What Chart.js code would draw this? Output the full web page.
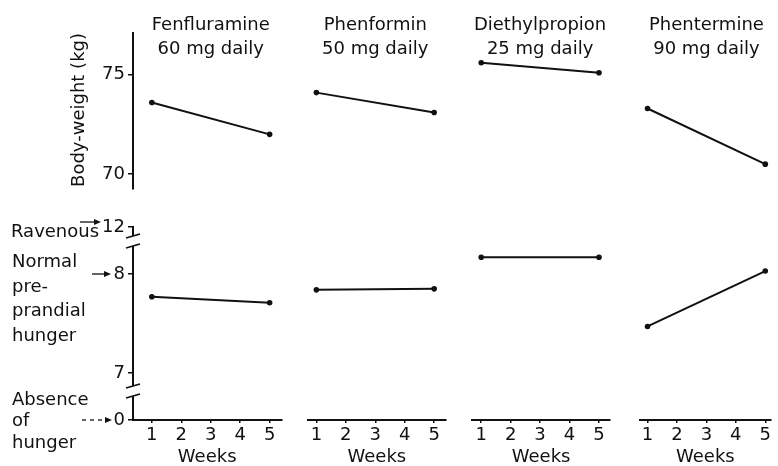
<!DOCTYPE html>
<html>
<head>
<meta charset="utf-8">
<script src="https://cdn.jsdelivr.net/npm/chart.js@4.4.1/dist/chart.umd.min.js"></script>
<style>
  body { margin: 0; background: #fff; }
  #wrap { width: 778px; height: 466px; }
</style>
</head>
<body>
<div id="wrap"><canvas id="myChart"></canvas></div>
<script>
const drugs = ['Fenfluramine', 'Phenformin', 'Diethylpropion', 'Phentermine'];
const doses = ['60 mg daily', '50 mg daily', '25 mg daily', '90 mg daily'];
const weeks = [1, 5];
const weekTicks = [1, 2, 3, 4, 5];
const weightStart = [73.6, 74.1, 75.6, 73.3];
const weightEnd = [72.0, 73.1, 75.1, 70.5];
const hungerStart = [7.77, 7.84, 8.17, 7.47];
const hungerEnd = [7.71, 7.85, 8.17, 8.03];
const weightTicks = [70, 75];
const hungerTicks = ['0', '7', '8', '12'];

const ink = '#111';
const font = { family: 'DejaVu Sans', size: 18 };
// hunger axis is broken: 0 sits below 7 and 12 above 8
const brk = 0.475;

// column widths (axis, gap, axis, gap...) and week ranges of each column
let widths = [150, 27, 139, 27, 139, 30, 133];
let ranges = [[0.36, 5.4], [0.72, 5.39], [0.70, 5.37], [0.73, 5.2]];

let scales = {};
drugs.forEach((d, i) => {
    scales['x' + i] = {
        type: 'linear', position: 'bottom', stack: 'weeks',
        stackWeight: widths[i * 2], weight: i * 2,
        min: ranges[i][0], max: ranges[i][1],
        afterBuildTicks: s => { s.ticks = weekTicks.map(v => ({ value: v })); },
        afterFit: s => { s.height = 46; },
        ticks: { font, color: ink, padding: 2, autoSkip: false, maxRotation: 0, minRotation: 0 },
        grid: { drawOnChartArea: false, tickLength: 3, color: ink, lineWidth: 1.5 },
        border: { color: ink, width: 2 },
        title: { display: true, text: 'Weeks', font, color: ink, padding: { top: 0, bottom: -2 } }
    };
    if (i < 3) {
        scales['gap' + i] = {
            type: 'linear', position: 'bottom', stack: 'weeks',
            stackWeight: widths[i * 2 + 1], weight: i * 2 + 1,
            ticks: { display: false }, grid: { display: false }, border: { display: false }
        };
    }
});

scales.yW = {
    type: 'linear', position: 'left', stack: 'side', stackWeight: 156, weight: 2,
    min: 69.25, max: 77.1,
    afterBuildTicks: s => { s.ticks = weightTicks.map(v => ({ value: v })); },
    afterFit: s => { s.width = 133; },
    ticks: { font, color: ink, padding: 3 },
    grid: { drawOnChartArea: false, tickLength: 5, color: ink, lineWidth: 1.5 },
    border: { color: ink, width: 2 },
    title: { display: true, text: 'Body-weight (kg)', font, color: ink, align: 'end', padding: { top: 69 } }
};
scales.yGap = {
    type: 'linear', position: 'left', stack: 'side', stackWeight: 38, weight: 1,
    afterFit: s => { s.width = 133; },
    ticks: { display: false }, grid: { display: false }, border: { display: false }
};
scales.yH = {
    type: 'linear', position: 'left', stack: 'side', stackWeight: 193, weight: 0,
    min: 7 - brk, max: 8 + brk,
    afterBuildTicks: s => { s.ticks = [7 - brk, 7, 8, 8 + brk].map(v => ({ value: v })); },
    afterFit: s => { s.width = 133; },
    ticks: { font, color: ink, padding: 3, callback: (v, i) => hungerTicks[i] },
    grid: { drawOnChartArea: false, tickLength: 5, color: ink, lineWidth: 1.5 },
    border: { color: ink, width: 2 }
};

let datasets = [];
drugs.forEach((d, i) => {
    datasets.push({
        label: d + ' body-weight',
        data: weeks.map((w, k) => ({ x: w, y: k ? weightEnd[i] : weightStart[i] })),
        xAxisID: 'x' + i, yAxisID: 'yW'
    });
    datasets.push({
        label: d + ' hunger',
        data: weeks.map((w, k) => ({ x: w, y: k ? hungerEnd[i] : hungerStart[i] })),
        xAxisID: 'x' + i, yAxisID: 'yH'
    });
});
datasets.forEach(ds => {
    ds.showLine = true;
    ds.borderColor = ink;
    ds.backgroundColor = ink;
    ds.borderWidth = 2;
    ds.pointRadius = 2.8;
    ds.pointBorderWidth = 0;
});

let arrow = (ctx, x1, x2, y, dashed) => {
    ctx.lineWidth = 1.3;
    if (dashed) ctx.setLineDash([4, 4]);
    ctx.beginPath();
    ctx.moveTo(x1, y);
    ctx.lineTo(x2 - 5, y);
    ctx.stroke();
    ctx.setLineDash([]);
    ctx.beginPath();
    ctx.moveTo(x2, y);
    ctx.lineTo(x2 - 7, y - 3);
    ctx.lineTo(x2 - 7, y + 3);
    ctx.closePath();
    ctx.fill();
};

const extras = {
    id: 'extras',
    afterDraw(chart) {
        const { ctx, scales } = chart;
        const yH = scales.yH;
        ctx.save();
        ctx.fillStyle = ink;
        ctx.strokeStyle = ink;
        ctx.font = '18px "DejaVu Sans"';

        // column headings
        ctx.textAlign = 'center';
        drugs.forEach((d, i) => {
            const cx = scales['x' + i].getPixelForValue(3);
            ctx.fillText(d, cx, 30);
            ctx.fillText(doses[i], cx, 54);
        });

        // axis breaks
        const ax = yH.right;
        const y12 = yH.getPixelForValue(8 + brk);
        const y8 = yH.getPixelForValue(8);
        const y7 = yH.getPixelForValue(7);
        const y0 = yH.getPixelForValue(7 - brk);
        [[y12 + 9, y12 + 19], [y7 + 13, y7 + 23]].forEach(([a, b]) => {
            ctx.fillStyle = '#fff';
            ctx.fillRect(ax - 4, a, 8, b - a);
            ctx.fillStyle = ink;
            ctx.lineWidth = 1.6;
            [a, b].forEach(y => {
                ctx.beginPath();
                ctx.moveTo(ax - 7, y + 2);
                ctx.lineTo(ax + 7, y - 2);
                ctx.stroke();
            });
        });

        // hunger descriptions
        ctx.textAlign = 'left';
        ctx.fillText('Ravenous', 11, y12 + 10);
        arrow(ctx, 80, 101, y12 - 5, false);
        ['Normal', 'pre-', 'prandial', 'hunger'].forEach((t, k) => ctx.fillText(t, 12, y8 - 7 + k * 24.5));
        arrow(ctx, 92, 111, y8, false);
        ctx.fillText('Absence', 12, y0 - 15);
        ctx.fillText('of', 12, y0 + 6);
        ctx.fillText('hunger', 12, y0 + 28);
        arrow(ctx, 82, 112, y0, true);
        ctx.restore();
    }
};

const ctx = document.getElementById('myChart');
let chart = new Chart(ctx, {
    type: 'scatter',
    data: { datasets },
    options: {
        responsive: true,
        maintainAspectRatio: false,
        animation: false,
        layout: { padding: { top: 33, left: 0, right: 0, bottom: 0 } },
        scales,
        plugins: {
            legend: { display: false },
            tooltip: { enabled: false }
        }
    },
    plugins: [extras]
});
</script>
</body>
</html>
